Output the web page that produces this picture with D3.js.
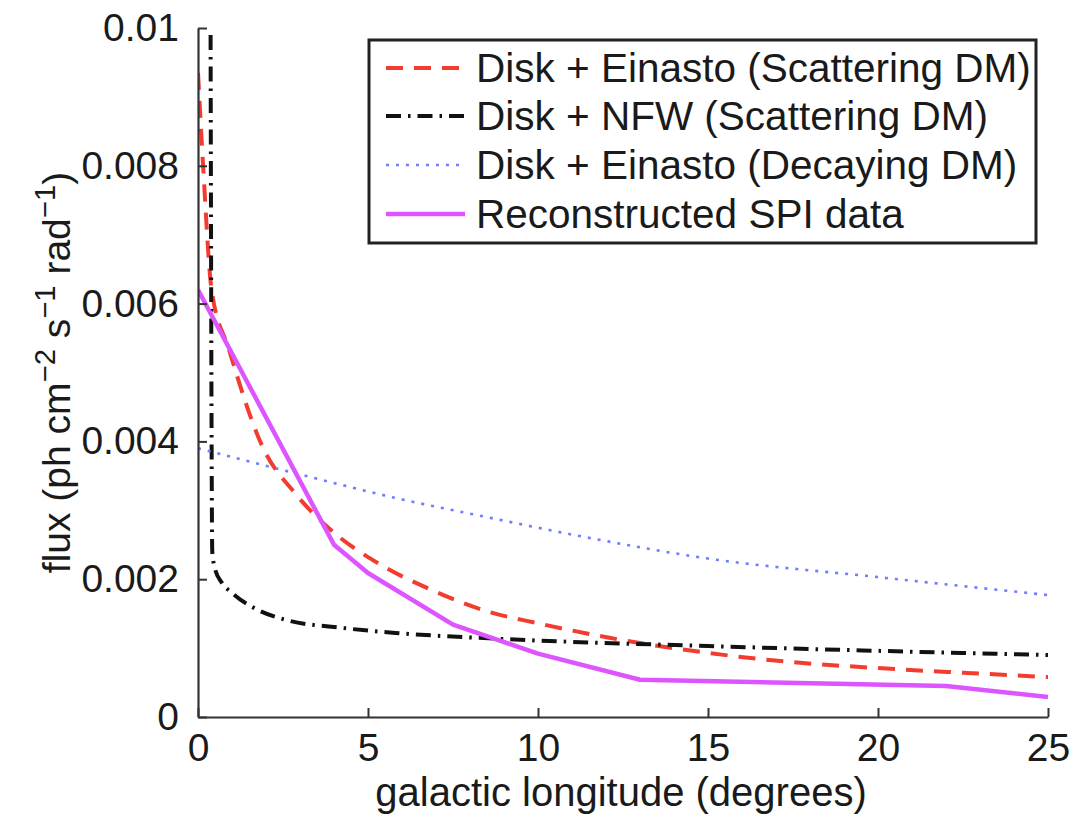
<!DOCTYPE html>
<html>
<head>
<meta charset="utf-8">
<script src="https://cdn.jsdelivr.net/npm/d3@7"></script>
<style>
  html, body { margin: 0; padding: 0; background: #fff; }
  svg { display: block; }
  text { font-family: "Liberation Sans", Arial, Helvetica, sans-serif; fill: #1a1a1a; }
</style>
</head>
<body>
<svg id="chart" width="1090" height="814"></svg>
<script>
// ---- data (x in degrees, y in ph cm^-2 s^-1 rad^-1) ----
const einastoScatX = [0, 0.15, 0.4, 0.9, 1.9, 2.85, 3.85, 5.3, 6.75, 8.6, 10, 12.1, 15, 17.4, 20, 22.6, 25];
const einastoScatY = [0.00935, 0.0080, 0.0062, 0.00535, 0.00392, 0.00325, 0.00274, 0.00223, 0.00187, 0.00152, 0.00136, 0.00115, 0.00093, 0.00080, 0.00071, 0.00064, 0.00058];

const nfwScatX = [0.37, 0.42, 0.5, 0.7, 1.0, 1.7, 2.5, 4.3, 5.8, 8.2, 10, 15, 20, 25];
const nfwScatY = [0.0099, 0.0024, 0.00215, 0.00195, 0.0018, 0.00157, 0.00142, 0.00129, 0.00122, 0.00115, 0.00111, 0.00103, 0.00096, 0.00090];

const einastoDecayX = [0, 2.85, 5.8, 8.6, 11.5, 15, 20, 25];
const einastoDecayY = [0.0039, 0.00354, 0.00318, 0.00289, 0.0026, 0.0023, 0.00203, 0.00177];

const spiX = [0, 4, 5, 7.5, 10, 13, 22, 25];
const spiY = [0.0062, 0.0025, 0.00209, 0.00134, 0.00092, 0.00054, 0.00045, 0.00029];

const xTicks = [0, 5, 10, 15, 20, 25];
const yTicks = [0, 0.002, 0.004, 0.006, 0.008, 0.01];
const yTickLabels = ["0", "0.002", "0.004", "0.006", "0.008", "0.01"];

const seriesNames = [
  "Disk + Einasto (Scattering DM)",
  "Disk + NFW (Scattering DM)",
  "Disk + Einasto (Decaying DM)",
  "Reconstructed SPI data"
];

// ---- layout ----
const svg = d3.select("#chart");
const pLeft = 198, pRight = 1048, pTop = 28, pBottom = 717;
const FS = 39;

const x = d3.scaleLinear().domain([0, 25]).range([pLeft, pRight]);
const y = d3.scaleLinear().domain([0, 0.01]).range([pBottom, pTop]);

const styles = [
  { color: "#f23c30", width: 4, dash: "17,11", curve: d3.curveMonotoneX },
  { color: "#111111", width: 4, dash: "15,7,2.5,7", curve: d3.curveMonotoneX },
  { color: "#6f7dff", width: 2.6, dash: "3,7", curve: d3.curveMonotoneX },
  { color: "#dd55ff", width: 4.5, dash: null, curve: d3.curveLinear }
];

const series = [
  einastoScatX.map((v, i) => [v, einastoScatY[i]]),
  nfwScatX.map((v, i) => [v, nfwScatY[i]]),
  einastoDecayX.map((v, i) => [v, einastoDecayY[i]]),
  spiX.map((v, i) => [v, spiY[i]])
];

svg.append("defs").append("clipPath").attr("id", "plotclip")
  .append("rect").attr("x", pLeft).attr("y", pTop - 2).attr("width", pRight - pLeft + 4).attr("height", pBottom - pTop + 2);

const plot = svg.append("g").attr("clip-path", "url(#plotclip)");
series.forEach((d, i) => {
  const st = styles[i];
  const line = d3.line().x(p => x(p[0])).y(p => y(p[1])).curve(st.curve);
  plot.append("path")
    .attr("d", line(d))
    .attr("fill", "none")
    .attr("stroke", st.color)
    .attr("stroke-width", st.width)
    .attr("stroke-dasharray", st.dash)
    .attr("stroke-linejoin", "round");
});

// ---- axes (MATLAB style, ticks inward, box off) ----
const xAxis = d3.axisBottom(x).tickValues(xTicks).tickSizeInner(-9).tickSizeOuter(0).tickPadding(16);
const yAxis = d3.axisLeft(y).tickValues(yTicks).tickSizeInner(-9).tickSizeOuter(0).tickPadding(19)
  .tickFormat((d, i) => yTickLabels[i]);

const gx = svg.append("g").attr("transform", `translate(0,${pBottom})`).call(xAxis);
const gy = svg.append("g").attr("transform", `translate(${pLeft},0)`).call(yAxis);
[gx, gy].forEach(g => {
  g.select(".domain").attr("stroke", "#333").attr("stroke-width", 2.2);
  g.selectAll(".tick line").attr("stroke", "#333").attr("stroke-width", 2);
  g.selectAll(".tick text").attr("font-size", FS).attr("fill", "#1a1a1a")
    .style("font-family", '"Liberation Sans", Arial, sans-serif');
});

// ---- axis labels ----
svg.append("text")
  .attr("x", (pLeft + pRight) / 2 - 2)
  .attr("y", 806)
  .attr("text-anchor", "middle")
  .attr("font-size", 40)
  .text("galactic longitude (degrees)");

const yl = svg.append("text")
  .attr("transform", `translate(70,${(pTop + pBottom) / 2}) rotate(-90)`)
  .attr("text-anchor", "middle")
  .attr("font-size", FS);
const parts = [
  ["flux (ph cm", false], ["\u22122", true], [" s", false], ["\u22121", true],
  [" rad", false], ["\u22121", true], [")", false]
];
let shifted = false;
parts.forEach(([t, sup]) => {
  const ts = yl.append("tspan").text(t);
  if (sup && !shifted) { ts.attr("dy", -15).attr("font-size", FS * 0.75); shifted = true; }
  else if (sup) { ts.attr("font-size", FS * 0.75); }
  else if (shifted) { ts.attr("dy", 15); shifted = false; }
});

// ---- legend ----
const lg = svg.append("g");
const lgX = 369, lgY = 40, lgW = 667, lgH = 203;
lg.append("rect").attr("x", lgX).attr("y", lgY).attr("width", lgW).attr("height", lgH)
  .attr("fill", "#fff").attr("stroke", "#222").attr("stroke-width", 3);
const rowY = [68, 116, 165, 214];
seriesNames.forEach((name, i) => {
  const st = styles[i];
  lg.append("line")
    .attr("x1", 386).attr("x2", 465).attr("y1", rowY[i]).attr("y2", rowY[i])
    .attr("stroke", st.color).attr("stroke-width", st.width)
    .attr("stroke-dasharray", st.dash);
  lg.append("text")
    .attr("x", 476).attr("y", rowY[i] + 14)
    .attr("font-size", 40.5)
    .text(name);
});
</script>
</body>
</html>
